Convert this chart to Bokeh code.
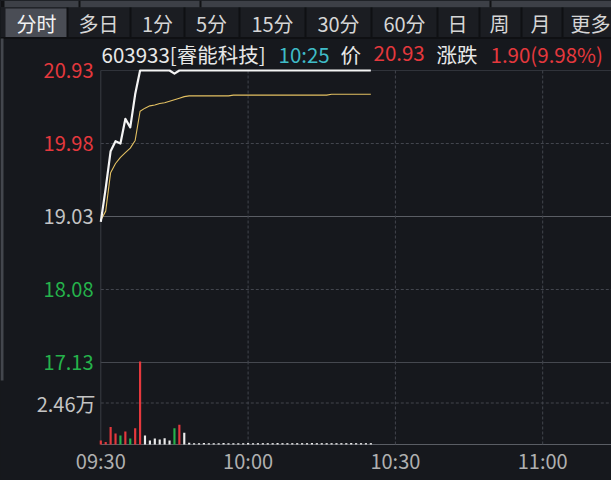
from bokeh.plotting import figure
from bokeh.models import Range1d, ColumnDataSource
from bokeh.core.properties import value
from bokeh.embed import file_html
from bokeh.resources import INLINE

# ---------------- data ----------------
minutes = list(range(56))  # minutes after 09:30, up to 10:25
price = [18.96, 19.40, 19.88, 20.01, 19.98, 20.30, 20.19, 20.62, 20.93,
         20.93, 20.93, 20.93, 20.93, 20.93, 20.93, 20.89,
         20.93, 20.93, 20.93, 20.93, 20.93, 20.93, 20.93, 20.93, 20.93, 20.93,
         20.93, 20.93, 20.93, 20.93, 20.93, 20.93, 20.93, 20.93, 20.93, 20.93,
         20.93, 20.93, 20.93, 20.93, 20.93, 20.93, 20.93, 20.93, 20.93, 20.93,
         20.93, 20.93, 20.93, 20.93, 20.93, 20.93, 20.93, 20.93, 20.93, 20.93]
avg_price = [18.98, 19.10, 19.60, 19.72, 19.80, 19.86, 19.92, 20.02, 20.40,
             20.44, 20.47, 20.48, 20.50, 20.51, 20.53, 20.55, 20.57, 20.59,
             20.60, 20.60, 20.60, 20.60, 20.60, 20.60, 20.60, 20.60, 20.60, 20.61,
             20.61, 20.61, 20.61, 20.61, 20.61, 20.61, 20.61, 20.61, 20.61, 20.61,
             20.61, 20.61, 20.61, 20.61, 20.61, 20.61, 20.61, 20.61, 20.61,
             20.62, 20.62, 20.62, 20.62, 20.62, 20.62, 20.62, 20.62, 20.62]
volume = [0.24, 0.15, 1.03, 0.65, 0.53, 0.77, 0.36, 0.97, 4.92,
          0.53, 0.24, 0.36, 0.30, 0.37, 0.24, 0.97, 1.17, 0.69,
          0.10, 0.08, 0.08, 0.09, 0.08, 0.08, 0.08, 0.09, 0.08, 0.08,
          0.08, 0.08, 0.09, 0.08, 0.08, 0.08, 0.08, 0.08, 0.09, 0.08,
          0.08, 0.08, 0.08, 0.08, 0.08, 0.09, 0.08, 0.08, 0.08, 0.08,
          0.08, 0.08, 0.08, 0.09, 0.08, 0.08, 0.08, 0.08]
direction = ["up", "up", "up", "up", "down", "up", "down", "up", "up",
             "flat", "flat", "flat", "flat", "flat", "flat", "down", "up"] + ["flat"] * 39

price_ticks = [20.93, 19.98, 19.03, 18.08, 17.13]
price_tick_labels = ["20.93", "19.98", "19.03", "18.08", "17.13"]
price_tick_kind = ["up", "up", "flat", "down", "down"]
prev_close = 19.03
vol_max = 4.92
vol_tick = 2.46
vol_tick_label = "2.46万"
time_ticks = [0, 30, 60, 90]
time_tick_labels = ["09:30", "10:00", "10:30", "11:00"]

tabs = ["分时", "多日", "1分", "5分", "15分", "30分", "60分", "日", "周", "月", "更多"]
title_parts = ["603933[睿能科技]", "10:25", "价", "20.93", "涨跌", "1.90(9.98%)"]
title_kind = ["name", "time", "name", "up", "name", "up"]

# ---------------- style ----------------
BG = "#16181d"
RED = "#e5383d"
GREEN = "#25b24b"
WHITE = "#ececec"
GRAY_TXT = "#c4c4c4"
FONT = value("Noto Sans CJK SC")
kind_color = {"up": RED, "down": GREEN, "flat": WHITE, "name": "#e8e8e8", "time": "#3fbcc8"}
tick_color = {"up": RED, "down": GREEN, "flat": GRAY_TXT}
DOT = "#42454d"

W, H = 611, 480
X0, PX_PER_MIN = 100.3, 4.91
Y_TOP_PX, PX_PER_UNIT = 70.0, 73.0 / 0.95
VOL_BASE_PX, VOL_PX_PER_UNIT = 444.0, 83.0 / vol_max


def mx(px):
    return (px - X0) / PX_PER_MIN


def my(py):
    return price_ticks[0] - (py - Y_TOP_PX) / PX_PER_UNIT


p = figure(width=W, height=H, output_backend="svg", toolbar_location=None, tools="",
           x_axis_location=None, y_axis_location=None, min_border=0,
           x_range=Range1d(mx(0), mx(W)), y_range=Range1d(my(H), my(0)),
           background_fill_color=BG, border_fill_color=BG, outline_line_color=None)
p.grid.visible = False
p.extra_y_ranges = {"vol": Range1d(-(H - VOL_BASE_PX) / VOL_PX_PER_UNIT, VOL_BASE_PX / VOL_PX_PER_UNIT)}

# ---------------- tab bar ----------------
p.quad(left=[mx(0)], right=[mx(W)], top=[my(0)], bottom=[my(7)], fill_color="#3d4047", line_color=None)
p.quad(left=[mx(x) for x in [0, 78, 199, 489]], right=[mx(x) for x in [4, 80, 201, 491]],
       top=[my(0)] * 4, bottom=[my(7)] * 4, fill_color="#111215", line_color=None)
p.quad(left=[mx(0)], right=[mx(W)], top=[my(7)], bottom=[my(38)], fill_color="#1b1d22", line_color=None)
p.quad(left=[mx(5)], right=[mx(67)], top=[my(8)], bottom=[my(36.5)], fill_color="#4a4d55", line_color=None)
sep_px = [67, 130, 184, 239, 305, 371, 437, 479, 521, 562]
p.segment(x0=[mx(x) for x in sep_px], x1=[mx(x) for x in sep_px], y0=[my(7)] * len(sep_px),
          y1=[my(37)] * len(sep_px), line_color="#0f1013", line_width=2)
p.segment(x0=[mx(0)], x1=[mx(W)], y0=[my(37.5)], y1=[my(37.5)], line_color="#0f1013", line_width=2)
p.quad(left=[mx(0)], right=[mx(3)], top=[my(38)], bottom=[my(380)], fill_color="#43464d", line_color=None)

tab_cx = [36, 98, 157, 211, 272, 338, 404, 457, 499, 540]
p.text(x=[mx(x) for x in tab_cx], y=[my(22.5)] * len(tab_cx), text=tabs[:-1], text_font=FONT,
       text_font_size="20px", text_color=["#f2f2f2"] + ["#d6d6d6"] * (len(tab_cx) - 1),
       text_align="center", text_baseline="middle")
p.text(x=[mx(570)], y=[my(22.5)], text=[tabs[-1]], text_font=FONT, text_font_size="20px",
       text_color="#d6d6d6", text_align="left", text_baseline="middle")

# ---------------- title ----------------
title_x = [101, 278, 340, 373, 436, 490]
p.text(x=[mx(x) for x in title_x], y=[my(53)] * len(title_parts), text=title_parts, text_font=FONT,
       text_font_size="20.5px", text_color=[kind_color[k] for k in title_kind],
       text_align="left", text_baseline="middle")

# ---------------- grid ----------------
x_end = mx(W)
p.segment(x0=[0], x1=[x_end], y0=[price_ticks[0]], y1=[price_ticks[0]], line_color="#30333a", line_width=1)
p.segment(x0=[0, 0], x1=[x_end, x_end], y0=[price_ticks[1], price_ticks[3]], y1=[price_ticks[1], price_ticks[3]],
          line_color=DOT, line_width=1, line_dash="3 2")
p.segment(x0=[0], x1=[x_end], y0=[prev_close], y1=[prev_close], line_color="#5a5d64", line_width=1.2)
p.segment(x0=[0], x1=[x_end], y0=[price_ticks[4]], y1=[price_ticks[4]], line_color="#45484f", line_width=1)
p.segment(x0=[0], x1=[x_end], y0=[vol_tick], y1=[vol_tick], line_color=DOT, line_width=1,
          line_dash="3 2", y_range_name="vol")
p.segment(x0=[0], x1=[x_end], y0=[0], y1=[0], line_color="#5a5d64", line_width=1.2, y_range_name="vol")
p.segment(x0=time_ticks[1:], x1=time_ticks[1:], y0=[price_ticks[0]] * 3, y1=[price_ticks[4]] * 3,
          line_color=DOT, line_width=1, line_dash="3 2")
p.segment(x0=time_ticks[1:], x1=time_ticks[1:], y0=[vol_max] * 3, y1=[0] * 3,
          line_color=DOT, line_width=1, line_dash="3 2", y_range_name="vol")
p.segment(x0=[0], x1=[0], y0=[price_ticks[0]], y1=[price_ticks[4]], line_color="#3a3d44", line_width=1)
p.segment(x0=[0], x1=[0], y0=[vol_max], y1=[0], line_color="#3a3d44", line_width=1, y_range_name="vol")

# ---------------- volume ----------------
vsrc = ColumnDataSource(dict(x=minutes, top=volume, color=[kind_color[d] for d in direction]))
p.vbar(x="x", top="top", bottom=0, width=0.44, fill_color="color", line_color=None, source=vsrc,
       y_range_name="vol")

# ---------------- price lines ----------------
p.line(minutes, avg_price, line_color="#e3c062", line_width=1.1)
p.line(minutes, price, line_color="#f4f4f4", line_width=2.2, line_join="round")

# ---------------- tick labels ----------------
p.text(x=[mx(93)] * len(price_ticks), y=price_ticks, text=price_tick_labels, text_font=FONT,
       text_font_size="20px", text_color=[tick_color[k] for k in price_tick_kind],
       text_align="right", text_baseline="middle")
p.text(x=[mx(95)], y=[vol_tick], text=[vol_tick_label], text_font=FONT, text_font_size="20px",
       text_color=GRAY_TXT, text_align="right", text_baseline="middle", y_range_name="vol")
p.text(x=time_ticks, y=[my(460)] * len(time_ticks), text=time_tick_labels, text_font=FONT,
       text_font_size="20px", text_color="#b0b0b0", text_align="center", text_baseline="middle")

html = file_html(p, INLINE, title="603933 分时")
html = html.replace("<head>", "<head><style>html,body{margin:0;padding:0;background:#16181d;overflow:hidden;}</style>", 1)
open("out.html", "w").write(html)
